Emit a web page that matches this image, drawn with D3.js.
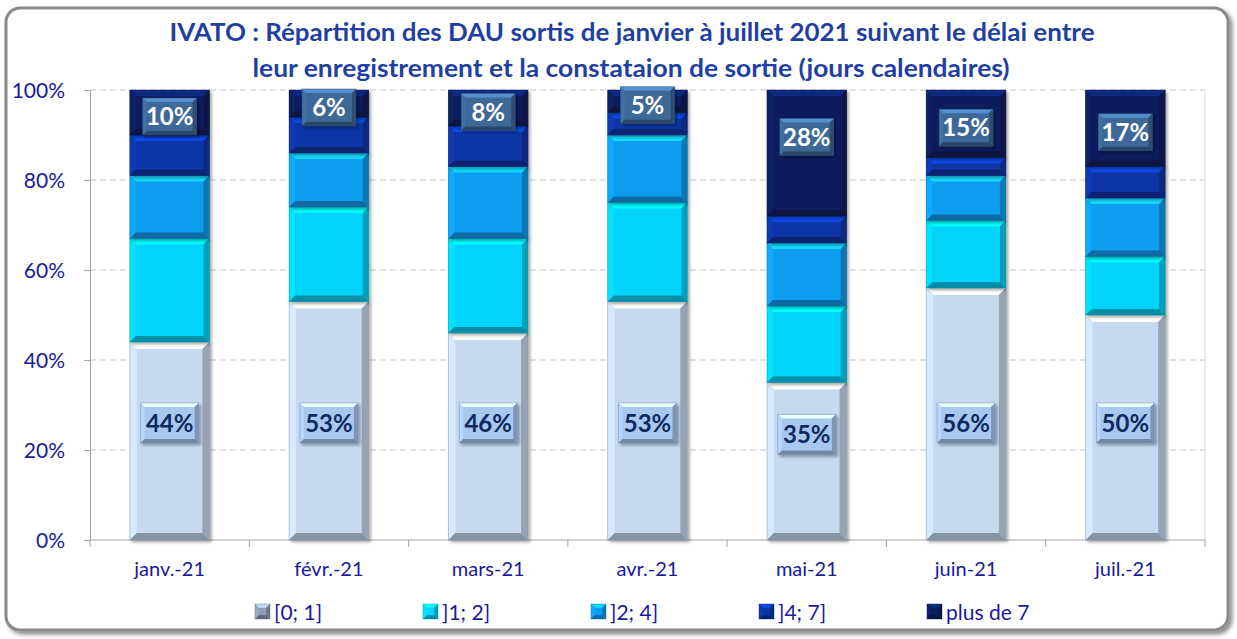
<!DOCTYPE html>
<html><head><meta charset="utf-8">
<script src="https://cdn.jsdelivr.net/npm/d3@7"></script>
<style>html,body{margin:0;padding:0;background:#fff;}svg{display:block;}</style>
</head><body>
<svg id="c" width="1237" height="639"></svg>
<script>
const categories = ["janv.-21","févr.-21","mars-21","avr.-21","mai-21","juin-21","juil.-21"];
const seriesNames = ["[0; 1]","]1; 2]","]2; 4]","]4; 7]","plus de 7"];
const s01 = [44,53,46,53,35,56,50];
const s12 = [23,21,21,22,17,15,13];
const s24 = [14,12,16,15,14,10,13];
const s47 = [9,8,9,5,6,4,7];
const s7p = [10,6,8,5,28,15,17];
const yTicks = [0,0.2,0.4,0.6,0.8,1];
const titleLines = ["IVATO : Répartition des DAU sortis de janvier à juillet 2021 suivant le délai entre",
                    "leur enregistrement et la constataion de sortie (jours calendaires)"];

const colors = ["#c6d9f1","#00d4fa","#0d9ef0","#0a36a8","#0a1f5e"];
const seriesVals = [s01,s12,s24,s47,s7p];

const svg = d3.select("#c");
const defs = svg.append("defs");
const f = defs.append("filter").attr("id","sh").attr("x","-10%").attr("y","-10%").attr("width","130%").attr("height","130%");
f.append("feDropShadow").attr("dx",2).attr("dy",2).attr("stdDeviation",1.5).attr("flood-color","#000").attr("flood-opacity",0.35);
const f2 = defs.append("filter").attr("id","fsh").attr("x","-5%").attr("y","-5%").attr("width","110%").attr("height","110%");
f2.append("feDropShadow").attr("dx",3).attr("dy",3).attr("stdDeviation",2).attr("flood-color","#000").attr("flood-opacity",0.45);

// frame
svg.append("rect").attr("x",6).attr("y",8).attr("width",1222).attr("height",622).attr("rx",14)
  .attr("fill","#fff").attr("stroke","#8a8a8a").attr("stroke-width",3).attr("filter","url(#fsh)");

// title
const tcol = "#1f3fa3";
const tt = svg.append("text").attr("text-anchor","middle").attr("fill",tcol)
  .style("font-family","Lato, 'Open Sans', sans-serif").style("font-weight","bold").style("font-size","24px");
tt.append("tspan").attr("x",632).attr("y",41).attr("textLength",925).attr("lengthAdjust","spacingAndGlyphs").text(titleLines[0]);
tt.append("tspan").attr("x",631).attr("y",77).attr("textLength",757).attr("lengthAdjust","spacingAndGlyphs").text(titleLines[1]);

const x = d3.scaleBand().domain(categories).range([90,1205]).paddingInner(0.5).paddingOuter(0.25);
const y = d3.scaleLinear().domain([0,1]).range([540,90]);

// grid
svg.append("g").selectAll("line").data(yTicks.filter(d=>d>0)).join("line")
  .attr("x1",90).attr("x2",1205).attr("y1",d=>y(d)).attr("y2",d=>y(d))
  .attr("stroke","#c4c4c4").attr("stroke-dasharray","6,4").attr("stroke-width",1);
svg.append("line").attr("x1",1205).attr("x2",1205).attr("y1",90).attr("y2",540).attr("stroke","#d9d9d9");

const axCol = "#1a1a9c";
const gy = svg.append("g").attr("transform","translate(90,0)")
  .call(d3.axisLeft(y).tickValues(yTicks).tickFormat(d3.format(".0%")).tickSizeOuter(0).tickSize(6).tickPadding(19));
gy.select(".domain").attr("stroke","#a6a6a6");
gy.selectAll(".tick line").attr("stroke","#a6a6a6");
gy.selectAll("text").attr("fill",axCol).style("font-family","Lato, sans-serif").style("font-size","21px").attr("dy","0.35em");

const gx = svg.append("g").attr("transform","translate(0,540)")
  .call(d3.axisBottom(x).tickSize(0).tickPadding(22));
gx.select(".domain").remove();
gx.selectAll("text").attr("fill",axCol).style("font-family","Lato, sans-serif").style("font-size","20px");
svg.append("line").attr("x1",90).attr("x2",1205).attr("y1",540).attr("y2",540).attr("stroke","#a6a6a6");
const step = x.step();
svg.append("g").selectAll("line").data(d3.range(categories.length+1)).join("line")
  .attr("x1",i=>x(categories[0]) - x.paddingOuter()*step + i*step)
  .attr("x2",i=>x(categories[0]) - x.paddingOuter()*step + i*step)
  .attr("y1",540).attr("y2",547).attr("stroke","#a6a6a6");

function bevel(g, x0, y0, w, h, col, b) {
  const c = d3.color(col);
  b = Math.min(b, h/2.5, w/4);
  g.append("rect").attr("x",x0).attr("y",y0).attr("width",w).attr("height",h).attr("fill",col);
  const pts = (a)=>a.map(p=>p.join(",")).join(" ");
  g.append("polygon").attr("points",pts([[x0,y0],[x0+w,y0],[x0+w-b,y0+b],[x0+b,y0+b]])).attr("fill",c.brighter(0.9));
  g.append("polygon").attr("points",pts([[x0,y0],[x0+b,y0+b],[x0+b,y0+h-b],[x0,y0+h]])).attr("fill",c.brighter(0.2));
  g.append("polygon").attr("points",pts([[x0+w,y0],[x0+w,y0+h],[x0+w-b,y0+h-b],[x0+w-b,y0+b]])).attr("fill",c.darker(0.8));
  g.append("polygon").attr("points",pts([[x0,y0+h],[x0+w,y0+h],[x0+w-b,y0+h-b],[x0+b,y0+h-b]])).attr("fill",c.darker(1.1));
  g.append("rect").attr("x",x0).attr("y",y0).attr("width",w).attr("height",h).attr("fill","none")
    .attr("stroke",c.darker(1.2)).attr("stroke-opacity",0.5).attr("stroke-width",0.8);
}

const stackData = categories.map((c,i)=>{const o={cat:c}; seriesNames.forEach((s,k)=>o[s]=seriesVals[k][i]/100); return o;});
const stacked = d3.stack().keys(seriesNames)(stackData);

const gb = svg.append("g");
stacked.forEach((layer,k)=>{
  layer.forEach((d,i)=>{
    const g = gb.append("g").attr("filter", "url(#sh)");
    const x0 = x(categories[i]), w = x.bandwidth();
    const y0 = y(d[1]), h = y(d[0]) - y(d[1]);
    if (h>0) bevel(g, x0, y0, w, h, colors[k], k===0?7:6);
  });
});

// labels
function labelBox(cx, cy, txt, fill, tcolor, w, hgt) {
  const g = svg.append("g").attr("filter","url(#sh)");
  bevel(g, cx-w/2, cy-hgt/2, w, hgt, fill, 4);
  svg.append("text").attr("x",cx).attr("y",cy).attr("dy","0.36em").attr("text-anchor","middle")
    .attr("fill",tcolor).style("font-family","Lato, sans-serif").style("font-weight","bold").style("font-size","24px").text(txt);
}
stacked[0].forEach((d,i)=>{
  const v = s01[i]/100;
  const cy = y(Math.min(0.26, v*0.67));
  labelBox(x(categories[i])+x.bandwidth()/2, cy, s01[i]+"%", "#a9c8ee", "#0e2a5e", 58, 40);
});
stacked[4].forEach((d,i)=>{
  const mid = (y(d[0])+y(d[1]))/2;
  const cy = Math.min(mid+4, y(1)+47);
  labelBox(x(categories[i])+x.bandwidth()/2, cy, s7p[i]+"%", "#3e6898", "#ffffff", 54, 37);
});

// legend
const lg = svg.append("g");
seriesNames.forEach((s,k)=>{
  const lx = 255 + k*168;
  const g = lg.append("g");
  bevel(g, lx, 604, 15, 15, k===0?"#8e9fb5":colors[k], 4);
  lg.append("text").attr("x",lx+19).attr("y",612).attr("dy","0.36em").attr("fill",axCol)
    .style("font-family","Lato, sans-serif").style("font-size","21px").text(s);
});
</script>
</body></html>
